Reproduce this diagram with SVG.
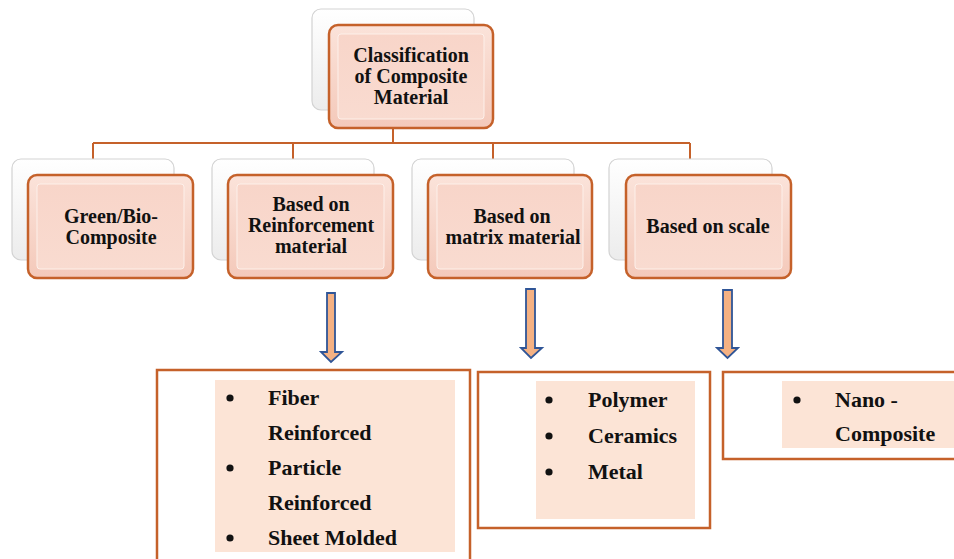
<svg xmlns="http://www.w3.org/2000/svg" width="954" height="559" viewBox="0 0 954 559">
<defs>
<linearGradient id="shadowFill" x1="0" y1="0" x2="0" y2="1">
<stop offset="0" stop-color="#ffffff"/>
<stop offset="1" stop-color="#ececec"/>
</linearGradient>
<linearGradient id="nodeFill" x1="0" y1="0" x2="0" y2="1">
<stop offset="0" stop-color="#fbe3da"/>
<stop offset="1" stop-color="#f4c9ba"/>
</linearGradient>
<linearGradient id="innerFill" x1="0" y1="0" x2="0" y2="1">
<stop offset="0" stop-color="#f8d5c9"/>
<stop offset="1" stop-color="#f9dbd0"/>
</linearGradient>
</defs>
<style>
.shadow{fill:url(#shadowFill);stroke:#d3d3d3;stroke-width:1.2}
.node{fill:url(#nodeFill);stroke:#c5612a;stroke-width:2.5}
.bevel{fill:url(#innerFill);stroke:#fdf0ea;stroke-width:1}
.lbl{font-family:"Liberation Serif","Times New Roman",serif;font-weight:bold;font-size:20px;fill:#111;text-anchor:middle}
.conn{fill:none;stroke:#c5612a;stroke-width:2}
.arrow{fill:#f4b183;stroke:#2f5597;stroke-width:1.8;stroke-linejoin:miter}
.frame{fill:#ffffff;stroke:#c5612a;stroke-width:2.5}
.peach{fill:#fce4d6}
.item{font-family:"Liberation Serif","Times New Roman",serif;font-weight:bold;font-size:22px;fill:#111}
</style>
<rect x="0" y="0" width="954" height="559" fill="#ffffff"/>

<g id="connectors">
<path class="conn" d="M393,128 V143 M93,143 H690 M93,143 V175 M293,143 V175 M493,143 V175 M690,143 V175"/>
</g>

<g id="node-root">
<rect class="shadow" x="312" y="9" width="162" height="101" rx="9"/>
<rect class="node" x="329" y="25" width="164" height="103" rx="9"/>
<rect class="bevel" x="338" y="34" width="146" height="85" rx="3"/>
<text class="lbl" x="411" y="62">Classification</text>
<text class="lbl" x="411" y="83">of Composite</text>
<text class="lbl" x="411" y="104">Material</text>
</g>

<g id="node-green">
<rect class="shadow" x="12" y="159" width="162" height="101" rx="9"/>
<rect class="node" x="28" y="175" width="165" height="103" rx="9"/>
<rect class="bevel" x="37" y="184" width="147" height="85" rx="3"/>
<text class="lbl" x="111" y="223">Green/Bio-</text>
<text class="lbl" x="111" y="244">Composite</text>
</g>

<g id="node-reinforcement">
<rect class="shadow" x="212" y="159" width="162" height="101" rx="9"/>
<rect class="node" x="228" y="175" width="165" height="103" rx="9"/>
<rect class="bevel" x="237" y="184" width="147" height="85" rx="3"/>
<text class="lbl" x="311" y="211">Based on</text>
<text class="lbl" x="311" y="232">Reinforcement</text>
<text class="lbl" x="311" y="253">material</text>
</g>

<g id="node-matrix">
<rect class="shadow" x="412" y="159" width="162" height="101" rx="9"/>
<rect class="node" x="428" y="175" width="164" height="103" rx="9"/>
<rect class="bevel" x="437" y="184" width="146" height="85" rx="3"/>
<text class="lbl" x="512" y="223">Based on</text>
<text class="lbl" x="513" y="244">matrix material</text>
</g>

<g id="node-scale">
<rect class="shadow" x="609" y="159" width="163" height="101" rx="9"/>
<rect class="node" x="626" y="175" width="165" height="103" rx="9"/>
<rect class="bevel" x="635" y="184" width="147" height="85" rx="3"/>
<text class="lbl" x="708" y="233">Based on scale</text>
</g>

<g id="arrows">
<path class="arrow" d="M327,293 H335 V352 H342 L331,362 L321,352 H327 Z"/>
<path class="arrow" d="M526,289 H535 V348 H542 L531,358 L521,348 H526 Z"/>
<path class="arrow" d="M723,290 H732 V348 H738 L727.5,358 L717,348 H723 Z"/>
</g>

<g id="list-reinforcement">
<rect class="frame" x="157" y="370" width="313" height="200"/>
<rect class="peach" x="215" y="380" width="240" height="172"/>
<circle cx="230" cy="398" r="3.6" fill="#111"/>
<circle cx="230" cy="468" r="3.6" fill="#111"/>
<circle cx="230" cy="538" r="3.6" fill="#111"/>
<text class="item" x="268" y="405">Fiber</text>
<text class="item" x="268" y="440">Reinforced</text>
<text class="item" x="268" y="475">Particle</text>
<text class="item" x="268" y="510">Reinforced</text>
<text class="item" x="268" y="545">Sheet Molded</text>
</g>

<g id="list-matrix">
<rect class="frame" x="478" y="372" width="232" height="156"/>
<rect class="peach" x="536" y="381" width="159" height="138"/>
<circle cx="549" cy="400" r="3.6" fill="#111"/>
<circle cx="549" cy="436" r="3.6" fill="#111"/>
<circle cx="549" cy="472" r="3.6" fill="#111"/>
<text class="item" x="588" y="407">Polymer</text>
<text class="item" x="588" y="443">Ceramics</text>
<text class="item" x="588" y="479">Metal</text>
</g>

<g id="list-scale">
<rect class="frame" x="723" y="372" width="240" height="87"/>
<rect class="peach" x="782" y="381" width="172" height="67"/>
<circle cx="797" cy="400" r="3.6" fill="#111"/>
<text class="item" x="835" y="407">Nano -</text>
<text class="item" x="835" y="441">Composite</text>
</g>
</svg>
